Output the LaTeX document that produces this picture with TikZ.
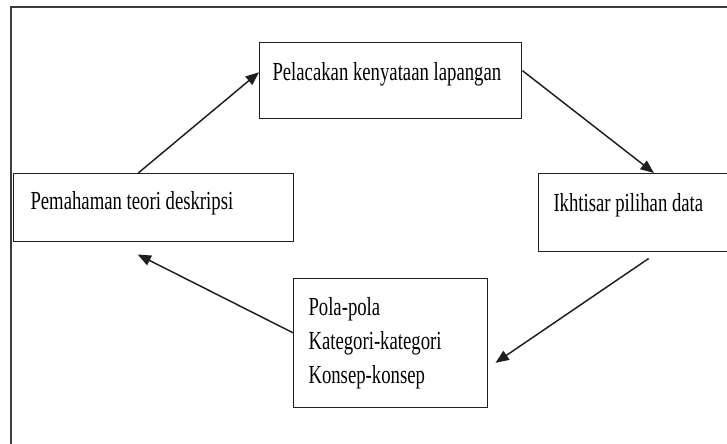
\documentclass[tikz,border=0pt]{standalone}
\usepackage{fontspec}
\usetikzlibrary{arrows.meta,calc}
\newfontfamily\boxfont[FakeStretch=0.72]{Liberation Serif}

\tikzset{every picture/.style={line width=0.75pt}}
\tikzset{
  kotak/.style={draw={rgb, 255:red, 30; green, 30; blue, 30 }, line width=1.1pt, inner sep=0pt, anchor=north west},
  teks/.style={font=\boxfont\fontsize{19.5}{25.5}\selectfont, inner sep=0pt, anchor=base west, align=left},
  panah/.style={draw={rgb, 255:red, 30; green, 30; blue, 30 }, line width=1.1pt, -{Triangle[length=10pt,width=8pt]}}
}

\begin{document}
\begin{tikzpicture}[x=0.75pt,y=0.75pt,yscale=-1,xscale=1]
        \useasboundingbox (0,0) rectangle (727,443);

        %Shape: Rectangle (frame)
        \draw [color={rgb, 255:red, 60; green, 60; blue, 60 }, line width=1.8pt] (11,7) rectangle (745,460) ;

        %Shape: Rectangle [boxes]
        \node [kotak, minimum width=196.5pt, minimum height=57pt] (pelacakan) at (259,42) {};
        \node [kotak, minimum width=210pt, minimum height=51pt] (pemahaman) at (13,173) {};
        \node [kotak, minimum width=155.25pt, minimum height=58.5pt] (ikhtisar) at (538,173) {};
        \node [kotak, minimum width=145.5pt, minimum height=96.75pt] (pola) at (293,278) {};

        % Text Node
        \node [teks] (pelacakanT) at ($(pelacakan.north west)+(13,38)$) {Pelacakan kenyataan lapangan};
        % Text Node
        \node [teks] (pemahamanT) at ($(pemahaman.north west)+(17,36)$) {Pemahaman teori deskripsi};
        % Text Node
        \node [teks] (ikhtisarT) at ($(ikhtisar.north west)+(15,38)$) {Ikhtisar pilihan data};
        % Text Node (base = last line)
        \node [teks] (polaT) at ($(pola.north west)+(15,105)$) {Pola-pola\\Kategori-kategori\\Konsep-konsep};

        %Straight Lines [arrows]
        \draw [panah] ($(pemahaman.north west)!0.445!(pemahaman.north east)$) -- ($(pelacakan.north west)!0.39!(pelacakan.south west)$) ;
        \draw [panah] ($(pelacakan.north east)!0.37!(pelacakan.south east)$) -- ($(ikhtisar.north west)!0.556!(ikhtisar.north east)$) ;
        \draw [panah] ($(ikhtisar.south west)!0.531!(ikhtisar.south east)+(0,6)$) -- ($(pola.north east)!0.65!(pola.south east)+(7,0)$) ;
        \draw [panah] ($(pola.north west)!0.42!(pola.south west)$) -- ($(pemahaman.south west)!0.443!(pemahaman.south east)+(0,12)$) ;

\end{tikzpicture}
\end{document}
